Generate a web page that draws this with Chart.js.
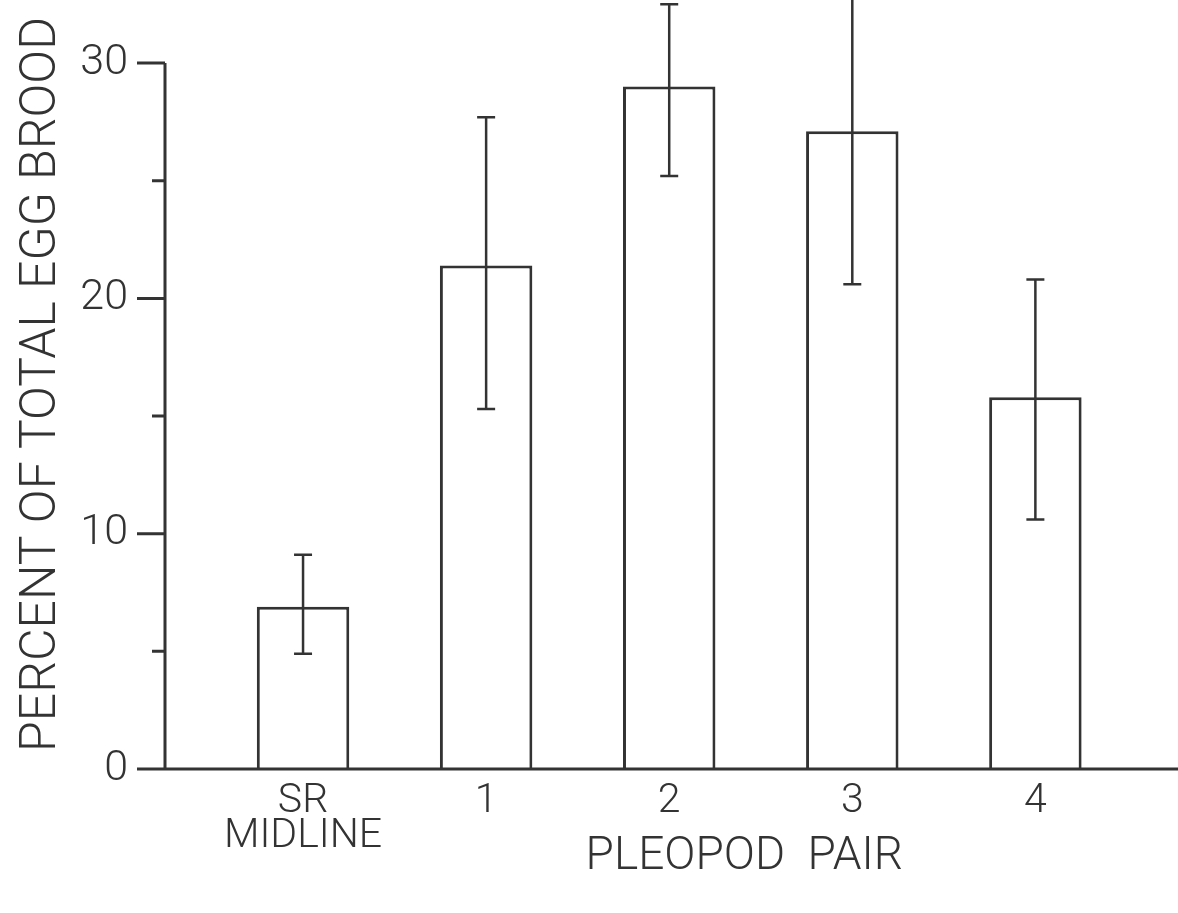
<!DOCTYPE html>
<html>
<head>
<meta charset="utf-8">
<script src="https://cdn.jsdelivr.net/npm/chart.js@4.4.0/dist/chart.umd.min.js"></script>
<style>
html, body { margin: 0; padding: 0; background: #fff; }
#wrap { width: 1178px; height: 913px; }
</style>
</head>
<body>
<div id="wrap"><canvas id="eggs"></canvas></div>
<script>
// values
const pairs = [['SR', 'MIDLINE'], '1', '2', '3', '4'];
const percent = [6.9, 21.4, 29.0, 27.1, 15.8];
const errHigh = [9.1, 27.7, 32.5, 33.6, 20.8];
const errLow = [4.9, 15.3, 25.2, 20.6, 10.6];
const yTicks = [0, 5, 10, 15, 20, 25, 30];
const yLabeled = [0, 10, 20, 30];
const xTitle = 'PLEOPOD  PAIR';
const yTitle = 'PERCENT OF TOTAL EGG BROOD';

const ink = '#333';
const face = "'Roboto', 'Liberation Sans', sans-serif";

// axes, tick marks, error bars and x title drawn on top of the bars
const extras = {
    id: 'extras',
    afterDatasetsDraw(chart) {
        const c = chart.ctx;
        const x = chart.scales.x;
        const y = chart.scales.y;
        const left = chart.chartArea.left;
        const y0 = y.getPixelForValue(0);
        c.save();
        c.strokeStyle = ink;

        c.lineWidth = 2.5;
        chart.getDatasetMeta(0).data.forEach((bar, i) => {
            const top = y.getPixelForValue(errHigh[i]);
            const bot = y.getPixelForValue(errLow[i]);
            c.beginPath();
            c.moveTo(bar.x, top); c.lineTo(bar.x, bot);
            c.moveTo(bar.x - 9, top); c.lineTo(bar.x + 9, top);
            c.moveTo(bar.x - 9, bot); c.lineTo(bar.x + 9, bot);
            c.stroke();
        });

        c.lineWidth = 3;
        c.beginPath();
        c.moveTo(left, y.getPixelForValue(30));
        c.lineTo(left, y0);
        c.lineTo(chart.chartArea.right, y0);
        yTicks.forEach(v => {
            const len = yLabeled.includes(v) ? 28 : 13;
            const p = y.getPixelForValue(v);
            c.moveTo(left - len, p);
            c.lineTo(left, p);
        });
        c.stroke();

        c.fillStyle = ink;
        c.font = '300 46px ' + face;
        c.textAlign = 'center';
        c.textBaseline = 'middle';
        c.fillText(xTitle, x.getPixelForValue(2.41), 857);
        c.restore();
    }
};

new Chart(document.getElementById('eggs'), {
    type: 'bar',
    data: {
        datasets: [{
            data: percent.map((v, i) => ({ x: i, y: v })),
            backgroundColor: '#fff',
            borderColor: ink,
            borderWidth: 3,
            categoryPercentage: 1,
            barPercentage: 0.505
        }]
    },
    options: {
        responsive: true,
        maintainAspectRatio: false,
        animation: false,
        layout: { padding: 0 },
        plugins: {
            legend: { display: false },
            tooltip: { enabled: false }
        },
        scales: {
            x: {
                type: 'linear',
                offset: false,
                min: -0.754,
                max: 4.779,
                grid: { display: false, drawTicks: false },
                border: { display: false },
                afterBuildTicks: s => { s.ticks = pairs.map((p, i) => ({ value: i })); },
                afterFit: s => {
                    s.height = 144;
                    s.paddingLeft = 0;
                    s.paddingRight = 0;
                },
                ticks: {
                    padding: 15,
                    color: ink,
                    font: { family: face, size: 41, weight: 300, lineHeight: 0.85 },
                    callback: v => pairs[v]
                }
            },
            y: {
                min: 0,
                max: 32.68,
                grid: { display: false, drawTicks: false },
                border: { display: false },
                afterBuildTicks: s => { s.ticks = yTicks.map(v => ({ value: v })); },
                afterFit: s => {
                    s.width = 165;
                    s.paddingTop = 0;
                    s.paddingBottom = 0;
                },
                ticks: {
                    padding: 37,
                    color: ink,
                    font: { family: face, size: 43, weight: 300 },
                    callback: v => yLabeled.includes(v) ? v : ''
                },
                title: {
                    display: true,
                    text: yTitle,
                    color: ink,
                    padding: { top: 12, bottom: 0 },
                    font: { family: face, size: 50, weight: 300 }
                }
            }
        }
    },
    plugins: [extras]
});
</script>
</body>
</html>
